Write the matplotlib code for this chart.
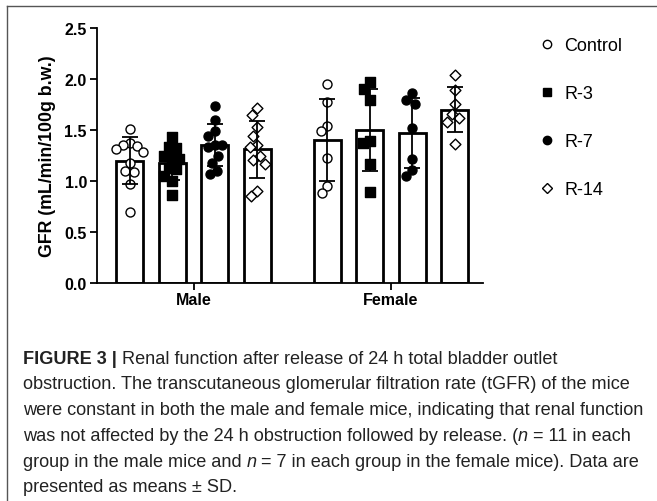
import matplotlib
matplotlib.use("Agg")
import matplotlib.pyplot as plt
import numpy as np
from matplotlib.lines import Line2D
from matplotlib.font_manager import FontProperties

plt.rcParams["font.family"] = ["Liberation Sans", "DejaVu Sans"]

W, H = 657, 502

groups = ["Male", "Female"]
treatments = ["Control", "R-3", "R-7", "R-14"]

# GFR (mL/min/100g b.w.), individual animals
male_control = [1.51, 1.37, 1.35, 1.34, 1.31, 1.28, 1.18, 1.10, 1.09, 0.97, 0.69]
male_r3 = [1.43, 1.33, 1.32, 1.25, 1.23, 1.22, 1.13, 1.12, 1.05, 1.00, 0.86]
male_r7 = [1.74, 1.60, 1.49, 1.44, 1.35, 1.35, 1.33, 1.25, 1.18, 1.10, 1.07]
male_r14 = [1.72, 1.65, 1.53, 1.44, 1.35, 1.33, 1.25, 1.21, 1.17, 0.90, 0.85]
female_control = [1.95, 1.78, 1.54, 1.49, 1.23, 0.95, 0.88]
female_r3 = [1.97, 1.90, 1.80, 1.39, 1.37, 1.17, 0.89]
female_r7 = [1.86, 1.80, 1.76, 1.52, 1.22, 1.11, 1.05]
female_r14 = [2.04, 1.89, 1.76, 1.66, 1.62, 1.58, 1.36]

data = {
    "Male": [male_control, male_r3, male_r7, male_r14],
    "Female": [female_control, female_r3, female_r7, female_r14],
}

caption = [
    [("FIGURE 3 |", "bold"), (" Renal function after release of 24 h total bladder outlet", "normal")],
    [("obstruction. The transcutaneous glomerular filtration rate (tGFR) of the mice", "normal")],
    [("were constant in both the male and female mice, indicating that renal function", "normal")],
    [("was not affected by the 24 h obstruction followed by release. (", "normal"), ("n", "italic"),
     (" = 11 in each", "normal")],
    [("group in the male mice and ", "normal"), ("n", "italic"),
     (" = 7 in each group in the female mice). Data are", "normal")],
    [("presented as means \u00b1 SD.", "normal")],
]

styles = {
    "Control": dict(marker="o", facecolor="white"),
    "R-3": dict(marker="s", facecolor="black"),
    "R-7": dict(marker="o", facecolor="black"),
    "R-14": dict(marker="D", facecolor="white"),
}

PX_X = 42.5   # px per x unit
PX_Y = 101.8  # px per y unit


def swarm(vals, dx=7.0, dy=11.0, step=0.5):
    # scatter-dot spreading: points closer than an ellipse (in px) are pushed sideways
    vals = np.asarray(vals)
    placed = []
    offs = np.zeros(len(vals))
    cands = sorted(np.arange(-40, 40.5, step), key=lambda c: (abs(c), c))
    for i in np.argsort(-vals):
        y = vals[i] * PX_Y
        for c in cands:
            if all(((c - px) / dx) ** 2 + ((y - py) / dy) ** 2 >= 1 for px, py in placed):
                break
        placed.append((c, y))
        offs[i] = c / PX_X
    return offs


fig = plt.figure(figsize=(W / 100, H / 100), dpi=100)
ax = fig.add_axes([96.7 / W, 1 - 283.7 / H, 386 / W, 254.4 / H])

starts = {"Male": 0.0, "Female": 4.64}
for g in groups:
    for k, (t, vals) in enumerate(zip(treatments, data[g])):
        x = starts[g] + k
        vals = np.array(vals)
        m, sd = vals.mean(), vals.std(ddof=1)
        ax.bar(x, m, width=0.63, facecolor="white", edgecolor="black", linewidth=2.0, zorder=1)
        st = styles[t]
        size = 30 if st["marker"] == "D" else 42
        ax.scatter(x + swarm(vals), vals, s=size, marker=st["marker"], facecolor=st["facecolor"],
                   edgecolor="black", linewidths=1.0, zorder=3)
        ax.errorbar(x, m, yerr=sd, fmt="none", ecolor="black", elinewidth=1.3,
                    capsize=6, capthick=1.3, zorder=4)

ax.set_xlim(-0.78, 8.3)
ax.set_ylim(0, 2.5)
ax.set_yticks(np.arange(0, 2.51, 0.5))
ax.set_yticklabels([f"{v:.1f}" for v in np.arange(0, 2.51, 0.5)], fontweight="bold", fontsize=11.5)
ax.set_xticks([starts[g] + 1.5 for g in groups])
ax.set_xticklabels(groups, fontweight="bold", fontsize=11.5)
ax.tick_params(axis="both", direction="out", length=5, width=1.3, pad=2)
ax.set_ylabel("GFR (mL/min/100g b.w.)", fontweight="bold", fontsize=12.8, labelpad=6)
for s in ["top", "right"]:
    ax.spines[s].set_visible(False)
for s in ["left", "bottom"]:
    ax.spines[s].set_linewidth(1.3)

handles = [Line2D([], [], ls="none", marker=styles[t]["marker"], markerfacecolor=styles[t]["facecolor"],
                  markeredgecolor="black", markersize=5 if styles[t]["marker"] == "D" else 6,
                  markeredgewidth=1.0) for t in treatments]
fig.legend(handles, treatments, loc="upper left", bbox_to_anchor=(540 / W, 1 - 38 / H),
           frameon=False, borderpad=0, borderaxespad=0, handlelength=0.8, handletextpad=0.55,
           labelspacing=1.72, prop={"family": "Liberation Sans", "size": 13})

# outer frame
fig.add_artist(Line2D([7 / W, 7 / W], [0, 1 - 7 / H], color="#555555", lw=1.0))
fig.add_artist(Line2D([7 / W, 1], [1 - 7 / H, 1 - 7 / H], color="#555555", lw=1.0))

# caption, drawn segment by segment
renderer = fig.canvas.get_renderer()
cap_size = 13.1
for i, line in enumerate(caption):
    x = 22.7
    y = 363.5 + 25.8 * i
    for txt, style in line:
        fp = FontProperties(family="Liberation Sans", size=cap_size,
                            weight="bold" if style == "bold" else "normal",
                            style="italic" if style == "italic" else "normal")
        fig.text(x / W, 1 - y / H, txt, fontproperties=fp, va="baseline", ha="left", color="#222222")
        w_all = renderer.get_text_width_height_descent("x" + txt + "x", fp, ismath=False)[0]
        w_xx = renderer.get_text_width_height_descent("xx", fp, ismath=False)[0]
        x += w_all - w_xx

fig.savefig("out.png", dpi=100)
